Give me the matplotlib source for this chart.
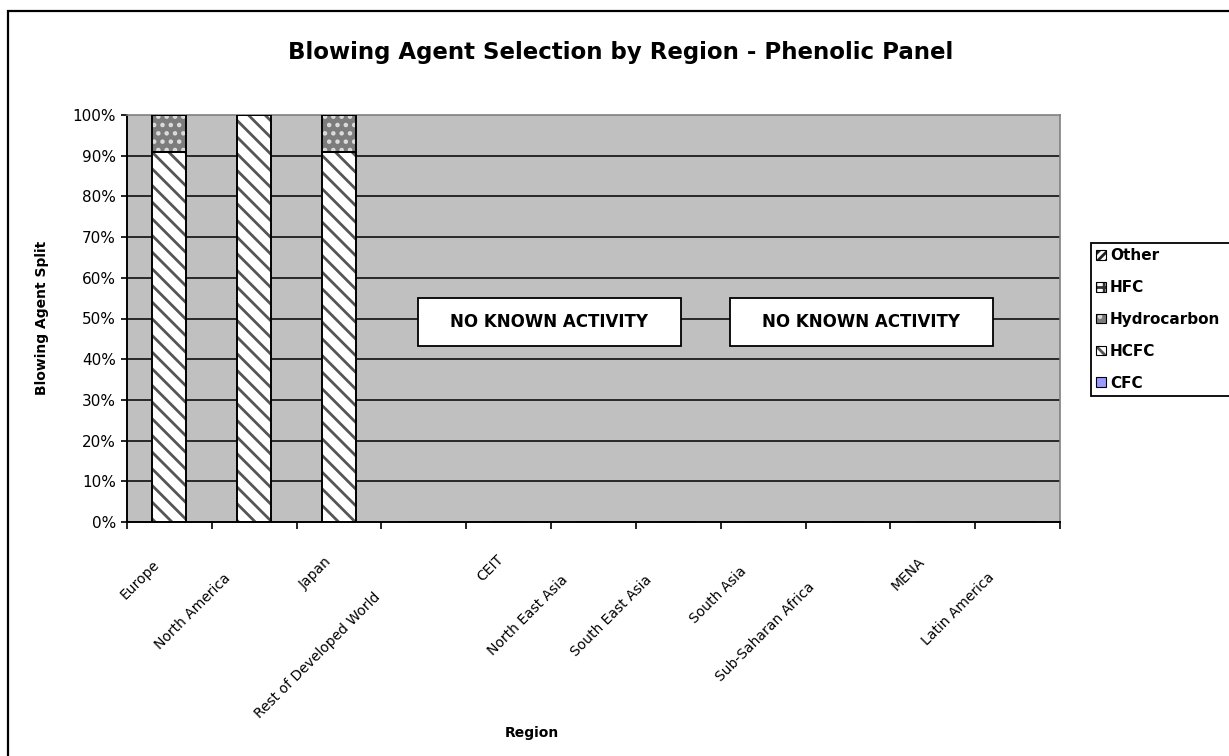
import matplotlib
matplotlib.use("Agg")
import matplotlib.pyplot as plt
import matplotlib.transforms as mtransforms
from matplotlib.patches import Patch, Rectangle
from matplotlib.legend_handler import HandlerTuple
import numpy as np

# ---- data ----
regions = ["Europe", "North America", "Japan", "Rest of Developed World", "CEIT",
           "North East Asia", "South East Asia", "South Asia", "Sub-Saharan Africa",
           "MENA", "Latin America"]
cfc = [0, 0, 0, 0, 0, 0, 0, 0, 0, 0, 0]
hcfc = [0.91, 1.00, 0.91, 0, 0, 0, 0, 0, 0, 0, 0]
hydrocarbon = [0.09, 0.0, 0.09, 0, 0, 0, 0, 0, 0, 0, 0]
hfc = [0, 0, 0, 0, 0, 0, 0, 0, 0, 0, 0]
other = [0, 0, 0, 0, 0, 0, 0, 0, 0, 0, 0]
yticks = [0, 0.1, 0.2, 0.3, 0.4, 0.5, 0.6, 0.7, 0.8, 0.9, 1.0]
ytick_labels = ["0%", "10%", "20%", "30%", "40%", "50%", "60%", "70%", "80%", "90%", "100%"]
note_text = "NO KNOWN ACTIVITY"

# series styling: (name, values, face, hatch, hatch colour)
series = [
    ("CFC", cfc, "#9999FF", None, "#000000"),
    ("HCFC", hcfc, "#FFFFFF", "\\\\", "#555555"),
    ("Hydrocarbon", hydrocarbon, "#7C7C7C", "..", "#DDDDDD"),
    ("HFC", hfc, "#FFFFFF", "++", "#333333"),
    ("Other", other, "#FFFFFF", "////", "#222222"),
]

plt.rcParams["font.family"] = ["DejaVu Sans"]
plt.rcParams["hatch.linewidth"] = 2.0

DPI = 100
fig = plt.figure(figsize=(12.29, 7.56), dpi=DPI, facecolor="white")

# outer chart frame (runs off the right and bottom of the canvas)
fig.patches.append(Rectangle((8 / 1229, -0.05), 1.2, 1 - 11 / 756 + 0.05,
                             transform=fig.transFigure, fill=False,
                             edgecolor="black", linewidth=1.6, zorder=0))

L, R, T, B = 127, 1060, 115, 522
ax = fig.add_axes([L / 1229, 1 - B / 756, (R - L) / 1229, (B - T) / 756])
ax.set_facecolor("#C0C0C0")

n = len(regions)
x = np.arange(n)
width = 0.4
bottom = np.zeros(n)
for name, vals, face, hatch, hcol in series:
    vals = np.asarray(vals, dtype=float)
    ax.bar(x, vals, width, bottom=bottom, color=face, hatch=hatch,
           edgecolor=hcol, linewidth=0, zorder=3)
    ax.bar(x, vals, width, bottom=bottom, fill=False,
           edgecolor="black", linewidth=1.4, zorder=4)
    bottom += vals

ax.set_xlim(-0.5, n - 0.5)
ax.set_ylim(0, 1)

# gridlines
for yv in yticks[1:-1]:
    ax.axhline(yv, color="black", linewidth=1.1, zorder=1)

for side in ("top", "right"):
    ax.spines[side].set_color("#808080")
    ax.spines[side].set_linewidth(1.2)
for side in ("left", "bottom"):
    ax.spines[side].set_color("black")
    ax.spines[side].set_linewidth(1.4)

ax.set_yticks(yticks)
ax.set_yticklabels(ytick_labels, fontsize=11)
ax.tick_params(axis="y", direction="out", length=4, width=1.2, pad=4)

ax.set_xticks(np.arange(n + 1) - 0.5)
ax.set_xticklabels([])
ax.tick_params(axis="x", direction="out", length=5, width=1.2)

# rotated category labels, anchored at their far end below each category
renderer = fig.canvas.get_renderer()
for i, lab in enumerate(regions):
    probe = fig.text(0, 0, lab, fontsize=10)
    w = probe.get_window_extent(renderer).width
    probe.remove()
    d = 4 + 0.27 * w
    off = mtransforms.ScaledTranslation(-d / DPI, -(18 + d) / DPI, fig.dpi_scale_trans)
    ax.text(i, 0, lab, transform=ax.get_xaxis_transform() + off,
            rotation=45, rotation_mode="anchor", ha="right", va="top",
            fontsize=10)

# note boxes
for x0, x1 in [((418 - L) / (R - L), (681 - L) / (R - L)),
               ((730 - L) / (R - L), (993 - L) / (R - L))]:
    y0, y1 = (B - 346) / (B - T), (B - 298) / (B - T)
    ax.add_patch(Rectangle((x0, y0), x1 - x0, y1 - y0, transform=ax.transAxes,
                           facecolor="white", edgecolor="black", linewidth=1.3,
                           zorder=6))
    ax.text((x0 + x1) / 2, (y0 + y1) / 2, note_text, transform=ax.transAxes,
            ha="center", va="center", fontsize=12, fontweight="bold", zorder=7)

fig.text(0.505, 1 - 52 / 756, "Blowing Agent Selection by Region - Phenolic Panel",
         ha="center", va="center", fontsize=16.5, fontweight="bold")
fig.text(42 / 1229, 1 - 318 / 756, "Blowing Agent Split", rotation=90,
         ha="center", va="center", fontsize=10, fontweight="bold")
fig.text(532 / 1229, 1 - 733 / 756, "Region", ha="center", va="center",
         fontsize=10, fontweight="bold")

# legend (reverse stacking order)
handles, labels = [], []
for name, vals, face, hatch, hcol in reversed(series):
    fill = Patch(facecolor=face, hatch=hatch, edgecolor=hcol, linewidth=0)
    edge = Patch(fill=False, edgecolor="black", linewidth=0.8)
    handles.append((fill, edge))
    labels.append(name)

leg = fig.legend(handles, labels, loc="upper left",
                 bbox_to_anchor=(1091 / 1229, 1 - 243 / 756, 0.2, 0.0),
                 mode="expand", bbox_transform=fig.transFigure,
                 handler_map={tuple: HandlerTuple(ndivide=1, pad=0)},
                 prop={"weight": "bold", "size": 11}, frameon=True,
                 fancybox=False, edgecolor="black", framealpha=1,
                 handlelength=0.6, handleheight=0.6, handletextpad=0.3,
                 labelspacing=1.1, borderpad=0.35, borderaxespad=0)
leg.get_frame().set_linewidth(1.3)

fig.savefig("out.png", dpi=DPI, facecolor="white")
